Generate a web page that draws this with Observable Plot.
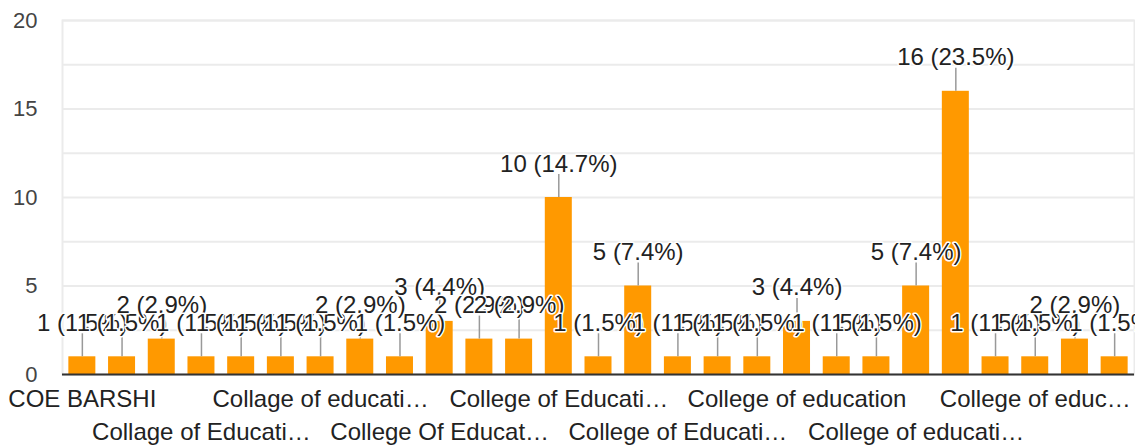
<!DOCTYPE html>
<html>
<head>
<meta charset="utf-8">
<script src="https://cdn.jsdelivr.net/npm/d3@7"></script>
<script src="https://cdn.jsdelivr.net/npm/@observablehq/plot@0.6"></script>
<style>
  html, body { margin: 0; padding: 0; background: white; }
  #chart { width: 1144px; height: 448px; overflow: hidden; }
</style>
</head>
<body>
<div id="chart"></div>
<script>
// Bar values in the order shown (27 answers)
const values = [1, 1, 2, 1, 1, 1, 1, 2, 1, 3, 2, 2, 10, 1, 5, 1, 1, 1, 3, 1, 1, 5, 16, 1, 1, 2, 1];
// Category labels as displayed (only every third is shown on the axis)
const tickLabels = [
  "COE BARSHI", "", "", "Collage of Educati…", "", "", "Collage of educati…", "", "",
  "College Of Educat…", "", "", "College of Educati…", "", "", "College of Educati…", "", "",
  "College of education", "", "", "College of educati…", "", "", "College of educ…", "", ""
];
const yTicks = [0, 5, 10, 15, 20];
const gridTicks = [0, 2.5, 5, 7.5, 10, 12.5, 15, 17.5, 20];

const total = d3.sum(values);
const data = values.map((v, i) => ({i, v, label: `${v} (${(v / total * 100).toFixed(1)}%)`}));
const shown = tickLabels.map((t, i) => i).filter(i => tickLabels[i] !== "");
const row1 = shown.filter((d, k) => k % 2 === 0);
const row2 = shown.filter((d, k) => k % 2 === 1);

const W = 1135, H = 448, mt = 20, mb = 74, ml = 62, mr = 1;
const pxPerUnit = (H - mt - mb) / 20;
const font = "Arial, 'Liberation Sans', sans-serif";

const chart = Plot.plot({
  width: W, height: H,
  marginTop: mt, marginBottom: mb, marginLeft: ml, marginRight: mr,
  style: {fontFamily: font, overflow: "hidden", background: "white"},
  x: {type: "band", domain: d3.range(values.length), paddingInner: 0.32, paddingOuter: 0.16, round: false, label: null},
  y: {domain: [0, 20], label: null},
  marks: [
    Plot.gridY({ticks: gridTicks, stroke: "#ebebeb", strokeOpacity: 1, strokeWidth: 2}),
    Plot.frame({stroke: "#ebebeb", strokeWidth: 2}),
    Plot.barY(data, {x: "i", y: "v", fill: "#ff9900"}),
    Plot.ruleX(data, {x: "i", y1: "v", y2: d => d.v + 23 / pxPerUnit, stroke: "#999", strokeWidth: 1.5}),
    Plot.ruleY([0], {stroke: "#333", strokeWidth: 2}),
    Plot.text(data, {
      x: "i", y: "v", text: "label", dy: -26, lineAnchor: "bottom",
      fontSize: 24, fill: "#222", stroke: "white", strokeWidth: 3, paintOrder: "stroke"
    }),
    Plot.axisY({ticks: yTicks, tickSize: 0, tickPadding: 25, fontSize: 22, color: "#444", label: null}),
    Plot.axisX({ticks: row1, tickFormat: i => tickLabels[i], tickSize: 0, tickPadding: 15, fontSize: 24, color: "#222", label: null}),
    Plot.axisX({ticks: row2, tickFormat: i => tickLabels[i], tickSize: 0, tickPadding: 48, fontSize: 24, color: "#222", label: null})
  ]
});
document.getElementById("chart").appendChild(chart);
</script>
</body>
</html>
